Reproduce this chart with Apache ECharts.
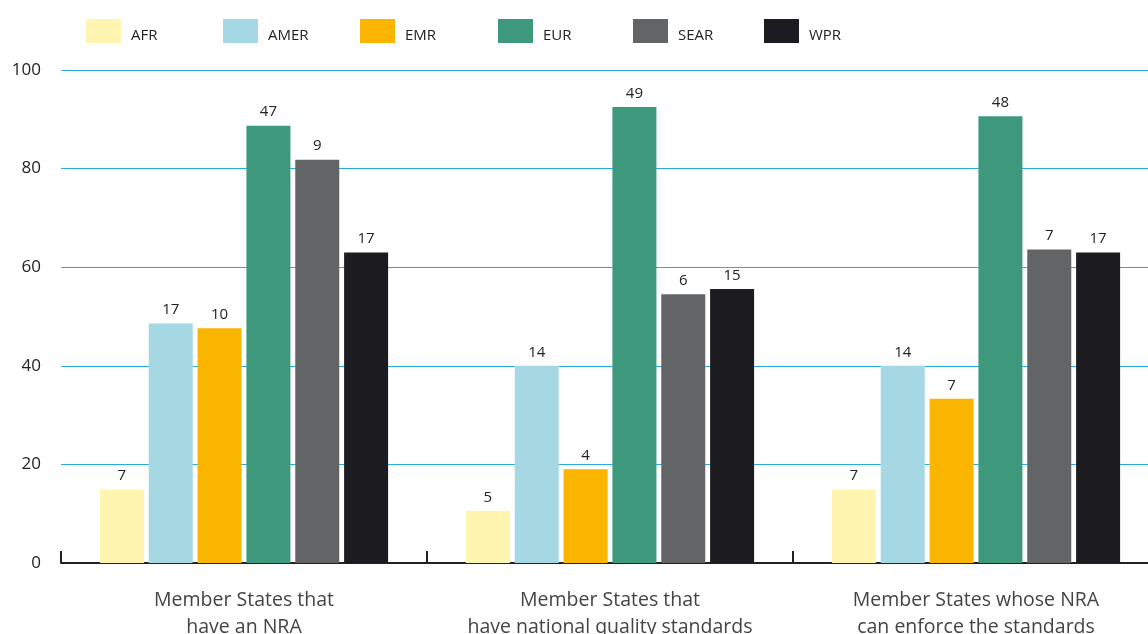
<!DOCTYPE html>
<html>
<head>
<meta charset="utf-8">
<script src="https://cdn.jsdelivr.net/npm/echarts@6/dist/echarts.min.js"></script>
<style>html,body{margin:0;padding:0;background:#fff;}#c{width:1148px;height:634px;}</style>
</head>
<body>
<div id="c"></div>
<script>
const categories = ['Member States that\nhave an NRA', 'Member States that\nhave national quality standards', 'Member States whose NRA\ncan enforce the standards'];
const regions = ['AFR', 'AMER', 'EMR', 'EUR', 'SEAR', 'WPR'];
const colors = ['#fef5b1', '#a5d8e3', '#f9b500', '#3d987c', '#636466', '#1c1b20'];
// percentage of Member States (bar height)
const pctAFR  = [14.9, 10.6, 14.9];
const pctAMER = [48.6, 40.0, 40.0];
const pctEMR  = [47.6, 19.0, 33.3];
const pctEUR  = [88.7, 92.5, 90.6];
const pctSEAR = [81.8, 54.5, 63.6];
const pctWPR  = [63.0, 55.6, 63.0];
// number of Member States (bar label)
const numAFR  = [7, 5, 7];
const numAMER = [17, 14, 14];
const numEMR  = [10, 4, 7];
const numEUR  = [47, 49, 48];
const numSEAR = [9, 6, 7];
const numWPR  = [17, 15, 17];
const yTicks = [0, 20, 40, 60, 80, 100];

const pcts = [pctAFR, pctAMER, pctEMR, pctEUR, pctSEAR, pctWPR];
const nums = [numAFR, numAMER, numEMR, numEUR, numSEAR, numWPR];
const legendLeft = [86, 223, 360, 498, 633, 764];

const chart = echarts.init(document.getElementById('c'));
chart.setOption({
  animation: false,
  legend: regions.map((r, i) => ({
    top: 19, left: legendLeft[i], padding: 0,
    itemWidth: 35, itemHeight: 24, itemGap: 0,
    icon: 'rect',
    data: [r],
    formatter: n => '{t|' + n + '}',
    textStyle: {
      fontFamily: 'Open Sans', fontSize: 15, color: '#222',
      rich: { t: { fontFamily: 'Open Sans', fontSize: 15, color: '#222', padding: [9, 0, 0, 5] } }
    }
  })),
  grid: { left: 61, top: 70, width: 1098, bottom: 71, outerBoundsMode: 'none', containLabel: false },
  xAxis: {
    type: 'category',
    data: categories,
    axisLine: { lineStyle: { color: '#222', width: 2 } },
    axisTick: { show: true, inside: true, length: 12, interval: 0, lineStyle: { color: '#222', width: 2 } },
    axisLabel: { interval: 0, hideOverlap: false, margin: 24, fontFamily: 'Open Sans', fontSize: 19.5, color: '#444', lineHeight: 27 }
  },
  yAxis: {
    type: 'value', min: 0, max: 100, interval: 20,
    axisLine: { show: false }, axisTick: { show: false },
    splitLine: { lineStyle: { color: '#29abe2', width: 1 } },
    axisLabel: { margin: 20, fontFamily: 'Open Sans', fontSize: 17, color: '#222',
      formatter: v => yTicks.includes(v) ? String(v) : '' }
  },
  series: regions.map((r, i) => ({
    name: r, type: 'bar', barWidth: 44, barGap: '11%',
    itemStyle: { color: colors[i] },
    data: pcts[i],
    label: {
      show: true, position: 'top', distance: 6,
      fontFamily: 'Open Sans', fontSize: 15, color: '#222',
      formatter: p => String(nums[i][p.dataIndex])
    }
  }))
});
</script>
</body>
</html>
